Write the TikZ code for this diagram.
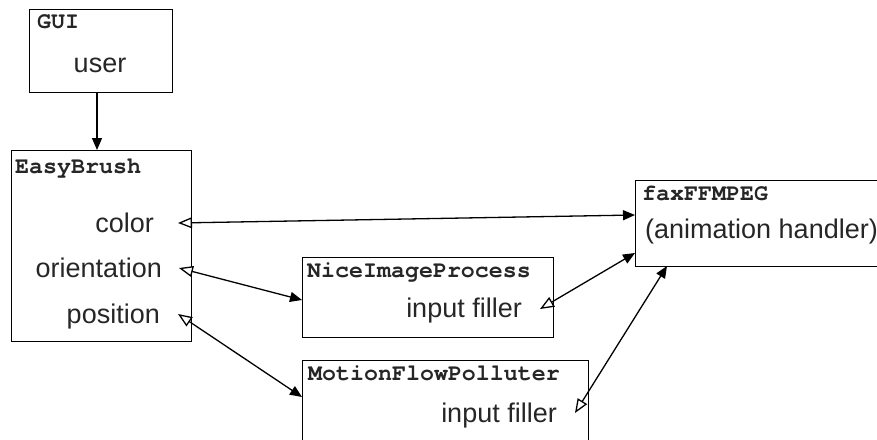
\documentclass[tikz,border=0pt]{standalone}
\usepackage{fontspec}
\setmainfont{Liberation Sans}
\newfontfamily\monofam{TeX Gyre Cursor}
\usetikzlibrary{arrows.meta}
\begin{document}
\begin{tikzpicture}[x=1pt,y=-1pt,
  box/.style={draw=black, line width=1.3pt, inner sep=0pt, anchor=north west},
  title/.style={inner sep=0pt, anchor=base west, font=\monofam\bfseries\fontsize{23.3}{26}\selectfont, text=black!85},
  lab/.style={inner sep=0pt, font=\fontsize{27}{31}\selectfont, text=black!85},
  flow/.style={line width=1.3pt, -{Triangle[length=12pt,width=10pt]}},
  port/.style={line width=1.3pt, {Triangle[open,length=14pt,width=11pt,fill=white]}-{Triangle[length=12pt,width=10pt]}}
]
\useasboundingbox (0,0) rectangle (877,439);
% boxes
\node[box, minimum width=143pt, minimum height=83pt] (gui) at (29,9) {};
\node[box, minimum width=180pt, minimum height=191pt] (brush) at (11,150) {};
\node[box, minimum width=251pt, minimum height=80pt] (nip) at (302,257) {};
\node[box, minimum width=286pt, minimum height=81pt] (mfp) at (302,360) {};
\node[box, minimum width=246pt, minimum height=86pt] (fax) at (635,180) {};
% titles
\node[title] (guit) at (37,28) {GUI};
\node[title] (brusht) at (15,173) {EasyBrush};
\node[title] (nipt) at (307,277) {NiceImageProcess};
\node[title] (mfpt) at (308,380) {MotionFlowPolluter};
\node[title] (faxt) at (642,200) {faxFFMPEG};
% labels
\node[lab, anchor=base] (user) at (100,72) {user};
\node[lab, anchor=base east] (color) at (154,232) {color};
\node[lab, anchor=base east] (orient) at (162,277) {orientation};
\node[lab, anchor=base east] (pos) at (160,323) {position};
\node[lab, anchor=base east] (nipin) at (522,317) {input filler};
\node[lab, anchor=base east] (mfpin) at (557,422) {input filler};
\node[lab, anchor=base west] (anim) at (645,238) {(animation handler)};
% ports
\coordinate (pcolor) at (178,223);
\coordinate (porient) at (179,268);
\coordinate (ppos) at (178,314);
\coordinate (pnip) at (540,309);
\coordinate (pmfp) at (575,413);
\coordinate (fin1) at (635,215);
\coordinate (fin2) at (635,253);
\coordinate (fin3) at (667,266);
\coordinate (nipin1) at (302,300);
\coordinate (mfpin1) at (302,397);
% connectors
\draw[flow] (gui.south -| 97,0) -- (brush.north -| 97,0);
\draw[port] (pcolor) -- (fin1);
\draw[port] (porient) -- (nipin1);
\draw[port] (ppos) -- (mfpin1);
\draw[port] (pnip) -- (fin2);
\draw[port] (pmfp) -- (fin3);
\end{tikzpicture}
\end{document}
